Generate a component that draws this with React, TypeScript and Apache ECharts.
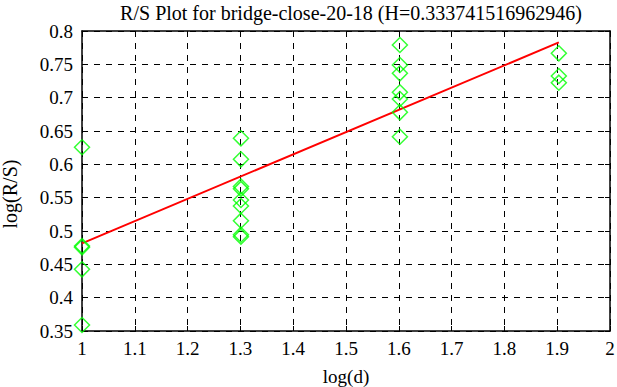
import React, { useEffect, useRef } from "react";
import * as echarts from "echarts";

const xTicks = [1, 1.1, 1.2, 1.3, 1.4, 1.5, 1.6, 1.7, 1.8, 1.9, 2];
const logD = [1, 1, 1, 1, 1, 1.30103, 1.30103, 1.30103, 1.30103, 1.30103, 1.30103, 1.30103, 1.30103, 1.30103,
  1.60206, 1.60206, 1.60206, 1.60206, 1.60206, 1.60206, 1.60206, 1.90309, 1.90309, 1.90309];
const logRS = [0.6256, 0.4775, 0.4755, 0.4425, 0.359, 0.639, 0.6075, 0.5668, 0.5632, 0.5465, 0.5375, 0.5155, 0.4945, 0.4915,
  0.779, 0.749, 0.7365, 0.708, 0.698, 0.678, 0.6414, 0.7665, 0.7325, 0.7225];
const H = 0.333741516962946;
const intercept = 0.4815;
const fitX = [1, 1.90309];

const FONT = "'Liberation Serif', 'Times New Roman', serif";

export default function App() {
  const ref = useRef<HTMLDivElement>(null);
  useEffect(() => {
    const chart = echarts.init(ref.current!, null, { renderer: "svg" });
    const scatterData = logD.map((x, i) => [x, logRS[i]]);
    const fitData = fitX.map((x) => [x, intercept + H * (x - 1)]);
    const axisLabel = { color: "#000", fontFamily: FONT, fontSize: 19 };
    chart.setOption({
      animation: false,
      backgroundColor: "#fff",
      title: {
        text: "R/S Plot for bridge-close-20-18 (H=0.333741516962946)",
        left: 346,
        textAlign: "center",
        top: -2,
        textStyle: { color: "#000", fontFamily: FONT, fontSize: 20, fontWeight: "normal" },
      },
      graphic: [
        {
          type: "text",
          x: 10,
          y: 194,
          rotation: Math.PI / 2,
          style: {
            text: "log(R/S)",
            fill: "#000",
            font: "20px 'Liberation Serif', serif",
            textAlign: "center",
            textVerticalAlign: "middle",
          },
        },
      ],
      grid: { left: 82, right: 7, top: 31, bottom: 56, outerBoundsMode: "none", containLabel: false },
      xAxis: [
        {
          type: "value",
          min: 1,
          max: 2,
          interval: 0.1,
          name: "log(d)",
          nameLocation: "middle",
          nameGap: 36,
          nameTextStyle: { color: "#000", fontFamily: FONT, fontSize: 19 },
          axisLine: { lineStyle: { color: "#000", width: 1.5 } },
          axisTick: { inside: true, length: 5, lineStyle: { color: "#000" } },
          axisLabel: { ...axisLabel, margin: 8, formatter: (v: number) => String(Math.round(v * 10) / 10) },
          splitLine: { show: true, lineStyle: { color: "#000", type: [6, 6], width: 1 } },
        },
        {
          type: "value",
          position: "top",
          min: 1,
          max: 2,
          interval: 0.1,
          axisLine: { lineStyle: { color: "#000", width: 1.5 } },
          axisTick: { inside: true, length: 5, lineStyle: { color: "#000" } },
          axisLabel: { show: false },
          splitLine: { show: false },
        },
      ],
      yAxis: [
        {
          type: "value",
          min: 0.35,
          max: 0.8,
          interval: 0.05,
          axisLine: { show: true, lineStyle: { color: "#000", width: 1.5 } },
          axisTick: { show: true, inside: true, length: 5, lineStyle: { color: "#000" } },
          axisLabel: { ...axisLabel, margin: 9, formatter: (v: number) => String(Math.round(v * 100) / 100) },
          splitLine: { show: true, lineStyle: { color: "#000", type: [6, 6], width: 1 } },
        },
        {
          type: "value",
          position: "right",
          min: 0.35,
          max: 0.8,
          interval: 0.05,
          axisLine: { show: true, lineStyle: { color: "#000", width: 1.5 } },
          axisTick: { show: true, inside: true, length: 5, lineStyle: { color: "#000" } },
          axisLabel: { show: false },
          splitLine: { show: false },
        },
      ],
      series: [
        {
          type: "line",
          data: fitData,
          symbol: "none",
          lineStyle: { color: "#ff0000", width: 2 },
          z: 3,
        },
        {
          type: "scatter",
          data: scatterData,
          symbol: "diamond",
          symbolSize: [15, 15],
          clip: false,
          itemStyle: { color: "rgba(0,0,0,0)", borderColor: "#00ff00", borderWidth: 1.5 },
          z: 4,
        },
      ],
    });
    return () => chart.dispose();
  }, []);
  return <div ref={ref} style={{ width: 617, height: 387, position: "absolute", left: 0, top: 0 }} />;
}
